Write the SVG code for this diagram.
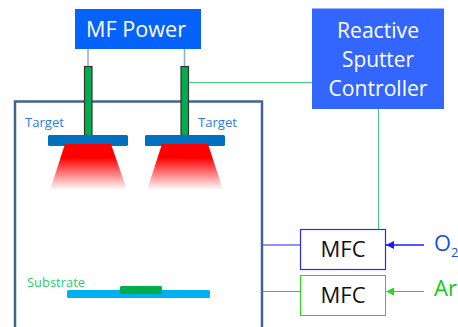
<svg xmlns="http://www.w3.org/2000/svg" width="458" height="327" viewBox="0 0 458 327">
<style>
text{font-family:"Open Sans","Noto Sans","Liberation Sans",sans-serif}
.c{text-anchor:middle}
.post{fill:#00ad4e;stroke:#333;stroke-width:1.2}
.tgt{fill:#0070c0}
.lbl{font-size:13px;fill:#2a7de8}
.big{font-size:22px;fill:#fff}
.mfc{font-size:22px;fill:#111}
.fl{fill:none}
</style>
<defs>
<linearGradient id="g" x1="0" y1="0" x2="0" y2="1"><stop offset="0.3" stop-color="#f00"/><stop offset="1" stop-color="#f00" stop-opacity="0"/></linearGradient>
<marker id="ab" markerWidth="8" markerHeight="8" refX="8" refY="4" orient="auto" markerUnits="userSpaceOnUse"><path d="M0 0L8 4L0 8Z" fill="#1a1aff"/></marker>
<marker id="ag" markerWidth="8" markerHeight="8" refX="8" refY="4" orient="auto" markerUnits="userSpaceOnUse"><path d="M0 0L8 4L0 8Z" fill="#1be01b"/></marker>
</defs>
<g id="chamber"><path d="M15 327V101.500H262V327" class="fl" stroke="#41648f" stroke-width="2.500"/></g>
<g id="mf-power"><rect x="75" y="9" width="126" height="40" fill="#0563fa"/><text x="136" y="37" class="c big" textLength="100" lengthAdjust="spacingAndGlyphs">MF Power</text></g>
<g id="post-1"><rect x="84.500" y="66.500" width="7.500" height="69" class="post"/></g>
<g id="post-2"><rect x="181" y="66.500" width="7.500" height="69" class="post"/></g>
<g id="target-1"><rect x="48" y="135" width="80" height="11" rx="1.500" class="tgt"/><path d="M65 144H111L127 190H50Z" fill="url(#g)"/><text x="25" y="127" class="lbl" textLength="39" lengthAdjust="spacingAndGlyphs">Target</text></g>
<g id="target-2"><rect x="145" y="135" width="80" height="11" rx="1.500" class="tgt"/><path d="M162 144H208L223 190H147Z" fill="url(#g)"/><text x="198" y="127" class="lbl" textLength="39" lengthAdjust="spacingAndGlyphs">Target</text></g>
<g id="controller"><rect x="312" y="8.500" width="132" height="100.500" fill="#3366ff"/><text x="378" y="38" class="c big" textLength="82" lengthAdjust="spacingAndGlyphs">Reactive</text><text x="378" y="67" class="c big" textLength="72" lengthAdjust="spacingAndGlyphs">Sputter</text><text x="378" y="96" class="c big" textLength="99" lengthAdjust="spacingAndGlyphs">Controller</text></g>
<g id="mfc-1"><rect x="300.500" y="229.500" width="85" height="40" fill="#fff" stroke="#2a2aff" stroke-width="1.200"/><text x="343" y="257" class="c mfc" textLength="45" lengthAdjust="spacingAndGlyphs">MFC</text></g>
<g id="mfc-2"><rect x="300.500" y="275.500" width="85" height="40" fill="#fff" stroke="#1be01b" stroke-width="1"/><text x="343" y="303" class="c mfc" textLength="45" lengthAdjust="spacingAndGlyphs">MFC</text></g>
<g id="o2"><text x="434" y="251" font-size="22" fill="#1a50d8" textLength="17" lengthAdjust="spacingAndGlyphs">O</text><text x="451" y="257" font-size="13" fill="#1a50d8">2</text></g>
<g id="ar"><text x="434" y="296" font-size="22" fill="#14c814" textLength="23" lengthAdjust="spacingAndGlyphs">Ar</text></g>
<g id="substrate"><rect x="67" y="290" width="143" height="8" rx="1.500" fill="#00b0f0"/><rect x="120" y="286" width="42" height="8" rx="1.500" fill="#00ad4e"/><text x="27" y="287" font-size="13" fill="#2ecc71" textLength="58" lengthAdjust="spacingAndGlyphs">Substrate</text></g>
<g id="connectors" class="fl">
<path d="M88 49V66M184.500 49V66" stroke="#8eaadb" stroke-width="1.500"/>
<path d="M189 82.500H312M378.500 109V229" stroke="#3ecf78" stroke-width="1"/>
<path d="M263 245H300" stroke="#6a6aff" stroke-width="1.500"/>
<path d="M263 291.500H300" stroke="#1be01b" stroke-width="1"/>
<path d="M424 245H386" stroke="#1a1aff" stroke-width="1.500" marker-end="url(#ab)"/>
<path d="M424 291.500H386" stroke="#1be01b" stroke-width="1" marker-end="url(#ag)"/>
</g>
</svg>
